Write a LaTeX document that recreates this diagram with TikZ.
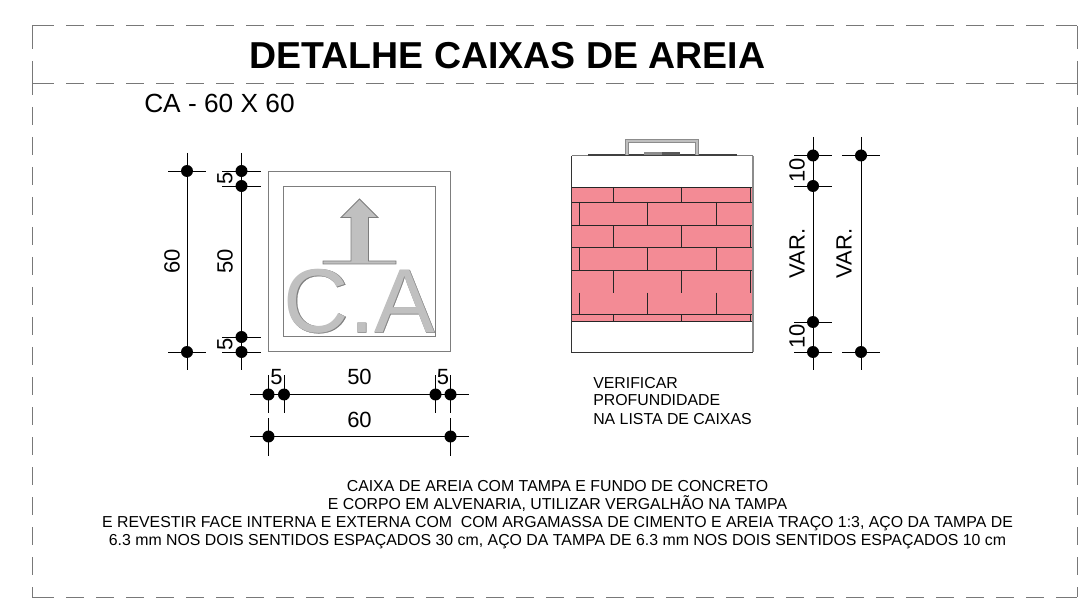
\documentclass[tikz,border=0pt]{standalone}
\usepackage{fontspec}
\setmainfont{Liberation Sans}
\newfontfamily\caoutline[FakeBold=0.3]{Liberation Sans}
\definecolor{brick}{RGB}{243,139,149}
\definecolor{capgray}{RGB}{192,192,192}
\definecolor{edgegray}{RGB}{125,125,125}
\definecolor{framegray}{RGB}{120,120,120}
\tikzset{
  framedash/.style={draw=framegray,line width=0.75pt,dash pattern=on 13.5pt off 9pt},
  framesolid/.style={draw=framegray,line width=0.75pt},
  dimline/.style={draw=black,line width=0.7pt},
  dimdot/.style={circle,fill=black,inner sep=0pt,minimum size=9pt},
  dimtext/.style={inner sep=0pt,font=\fontsize{16.5}{18}\selectfont},
  dimtextr/.style={dimtext,rotate=90},
  boxline/.style={draw=edgegray,line width=0.75pt},
  brickline/.style={draw=black!85,line width=0.6pt},
  note/.style={inner sep=0pt,font=\fontsize{11.9}{13.5}\selectfont,align=center},
  grayshape/.style={draw=edgegray,fill=capgray,line width=0.6pt}
}
\begin{document}
\begin{tikzpicture}[x=0.75pt,y=-0.75pt]
\useasboundingbox (0,0) rectangle (1083,606);
% frame
\foreach \y in {26,84,597}{
  \draw[framedash] (36,\y) -- (1074,\y);
  \draw[framesolid] (32,\y) -- (36,\y);
  \draw[framesolid] (1074,\y) -- (1077,\y);
}
\foreach \x in {32,1077}{
  \draw[framesolid] (\x,26) -- (\x,49);
  \draw[framesolid] (\x,61) -- (\x,95);
  \draw[framedash] (\x,107) -- (\x,587);
  \draw[framesolid] (\x,587) -- (\x,597);
}
% titles
\node[inner sep=0pt,anchor=base] (title) at (507.5,69) {\fontsize{28.1}{30}\selectfont\bfseries DETALHE CAIXAS DE AREIA};
\node[inner sep=0pt,anchor=base west] (sub) at (144,113) {\fontsize{19.7}{22}\selectfont CA - 60 X 60};
% plan
\draw[boxline] (268.5,171.5) rectangle (450.5,352);
\draw[boxline] (283.5,187) rectangle (435.5,337);
\draw[grayshape] (351,261) -- (351,217.5) -- (341,217.5) -- (359.5,199) -- (378,217.5) -- (368.5,217.5) -- (368.5,261) -- (396,261) -- (396,264) -- (323,264) -- (323,261) -- cycle;
\node[inner sep=0pt,anchor=base] (ca) at (359.5,332.5) {\fontsize{68}{70}\selectfont\rlap{\textcolor{edgegray}{\caoutline C.A}}\textcolor{capgray}{C.A}};
% left dims
\coordinate (a1) at (187,153); \coordinate (a2) at (187,370);
\draw[dimline] (a1) -- (a2);
\coordinate (b1) at (241.5,153); \coordinate (b2) at (241.5,370);
\draw[dimline] (b1) -- (b2);
\foreach \y in {171,352}{
  \draw[dimline] (168,\y) -- (206,\y);
  \node[dimdot] at (187,\y) {};
}
\foreach \y in {171,186,337,352}{
  \draw[dimline] (222,\y) -- (261,\y);
  \node[dimdot] at (241.5,\y) {};
}
\node[dimtextr] at (172,261.5) {60};
\node[dimtextr] at (225,261.5) {50};
\node[dimtextr] at (225,178) {5};
\node[dimtextr] at (225,344.5) {5};
% bottom dims
\coordinate (c1) at (250,394.5); \coordinate (c2) at (469,394.5);
\draw[dimline] (c1) -- (c2);
\coordinate (d1) at (250,436.5); \coordinate (d2) at (469,436.5);
\draw[dimline] (d1) -- (d2);
\foreach \x in {268.5,284,435.5,450.5}{
  \draw[dimline] (\x,375) -- (\x,413);
  \node[dimdot] at (\x,394.5) {};
}
\foreach \x in {268.5,450.5}{
  \draw[dimline] (\x,418) -- (\x,456);
  \node[dimdot] at (\x,436.5) {};
}
\node[dimtext] at (276.5,377) {5};
\node[dimtext] at (359.5,377) {50};
\node[dimtext] at (443,377) {5};
\node[dimtext] at (359.5,420) {60};
% section
\fill[white] (571.5,156) rectangle (753,352);
\fill[brick] (571.5,187) rectangle (753,322);
\foreach \y in {187,202,225.3,247.3,270.7,314.3,321.7}{
  \draw[brickline] (571.5,\y) -- (753,\y);
}
\foreach \ya/\yb in {187/202,225.3/247.3,270.7/292.7,314.3/321.7}{
  \foreach \x in {613.3,681.3,750.3}{\draw[brickline] (\x,\ya) -- (\x,\yb);}
}
\foreach \ya/\yb in {202/225.3,247.3/270.7,292.7/314.3}{
  \foreach \x in {579.3,647.3,716.3}{\draw[brickline] (\x,\ya) -- (\x,\yb);}
}
\draw[draw=edgegray,line width=0.75pt] (571.5,156) -- (753,156) ;
\draw[draw=black!80,line width=0.6pt] (571.5,156) -- (571.5,352) -- (753,352);
\draw[draw=black!45,line width=1pt] (753,156) -- (753,352);
% lid
\draw[draw=black!75,line width=0.9pt] (588,155) -- (737,155);
\fill[black!45] (644,152) rectangle (662,155.5);
\fill[black!65] (662,152) rectangle (680,155.5);
\draw[draw=black!45,line width=2.6pt] (627,155.5) -- (627,141) -- (697,141) -- (697,155.5);
\draw[draw=white!75!black,line width=0.8pt] (627,155.5) -- (627,141) -- (697,141) -- (697,155.5);
% right dims
\coordinate (e1) at (813,137); \coordinate (e2) at (813,370);
\draw[dimline] (e1) -- (e2);
\coordinate (f1) at (861,137); \coordinate (f2) at (861,370);
\draw[dimline] (f1) -- (f2);
\foreach \y in {155.5,186,322,352}{
  \draw[dimline] (794,\y) -- (832,\y);
  \node[dimdot] at (813,\y) {};
}
\foreach \y in {155.5,352}{
  \draw[dimline] (842,\y) -- (880,\y);
  \node[dimdot] at (861,\y) {};
}
\node[dimtextr] at (797,170.5) {10};
\node[dimtextr] at (797,336.5) {10};
\node[dimtextr] at (797,253.5) {VAR.};
\node[dimtextr] at (844,253.5) {VAR.};
% notes
\node[inner sep=0pt,anchor=base west,align=left,font=\fontsize{11.9}{13.5}\selectfont] (verif) at (593,424) {VERIFICAR\\PROFUNDIDADE\\NA LISTA DE CAIXAS};
\node[note,anchor=base] (long) at (557.5,545.7) {CAIXA DE AREIA COM TAMPA E FUNDO DE CONCRETO\\E CORPO EM ALVENARIA, UTILIZAR VERGALHÃO NA TAMPA\\E REVESTIR FACE INTERNA E EXTERNA COM\ \ COM ARGAMASSA DE CIMENTO E AREIA TRAÇO 1:3, AÇO DA TAMPA DE\\6.3 mm NOS DOIS SENTIDOS ESPAÇADOS 30 cm, AÇO DA TAMPA DE 6.3 mm NOS DOIS SENTIDOS ESPAÇADOS 10 cm};
\end{tikzpicture}
\end{document}
